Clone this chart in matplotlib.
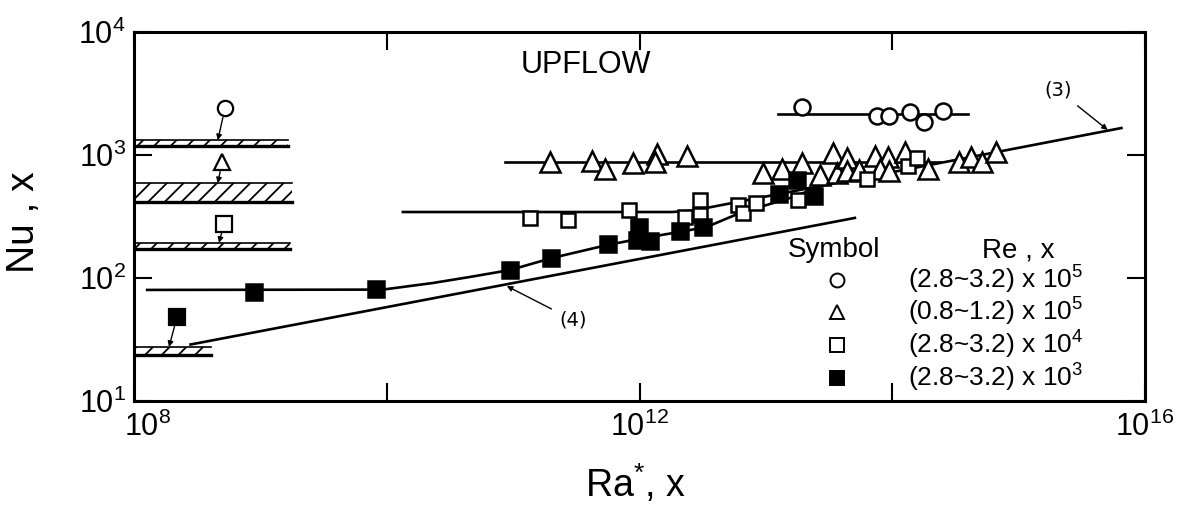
import matplotlib
matplotlib.use("Agg")
import matplotlib.pyplot as plt
import matplotlib.transforms as mtransforms
from matplotlib.ticker import NullLocator

plt.rcParams['font.family'] = ['Liberation Sans', 'DejaVu Sans']
plt.rcParams['mathtext.fontset'] = 'custom'
plt.rcParams['mathtext.rm'] = 'Liberation Sans'
plt.rcParams['mathtext.it'] = 'Liberation Sans'
plt.rcParams['hatch.linewidth'] = 1.3

# Re,x = (2.8~3.2) x 10^5
ra_circle = [1.92e13, 7.5e13, 9.4e13, 1.37e14, 1.77e14, 2.5e14]
nu_circle = [2455, 2075, 2075, 2240, 1853, 2280]

# Re,x = (0.8~1.2) x 10^5
ra_tri = [1.95e11, 4.2e11, 5.3e11, 8.9e11, 1.37e12, 1.32e12, 2.37e12,
          9.4e12, 1.34e13, 1.92e13, 2.67e13, 3.38e13, 3.64e13, 4.37e13,
          4.4e13, 5.5e13, 7.3e13, 9.2e13, 8.0e13, 9.5e13, 1.26e14,
          1.91e14, 3.36e14, 4.2e14, 5.1e14, 6.6e14]
nu_tri = [877, 894, 769, 861, 1019, 877, 981,
          714, 769, 861, 687, 1038, 714, 946,
          741, 755, 981, 964, 769, 741, 1057,
          769, 877, 964, 877, 1057]

# Re,x = (2.8~3.2) x 10^4
ra_sq = [1.36e11, 2.7e11, 8.2e11, 2.3e12, 3.0e12, 3.0e12, 6.0e12,
         6.6e12, 8.3e12, 1.8e13, 6.3e13, 1.32e14, 1.56e14]
nu_sq = [308, 297, 357, 313, 431, 325, 392,
         337, 407, 431, 638, 814, 946]

# Re,x = (2.8~3.2) x 10^3
ra_fill = [8.9e8, 8.2e9, 9.4e10, 2.0e11, 5.6e11, 9.9e11, 9.5e11,
           1.2e12, 2.1e12, 3.2e12, 1.26e13, 1.75e13, 2.4e13]
nu_fill = [76.9, 81.5, 116, 146, 189, 260, 204,
           200, 241, 260, 482, 626, 464]

# curves drawn through each group
curve_circle_ra = [1.24e13, 3.95e14]
curve_circle_nu = [2150, 2150]
curve_tri_ra = [8.6e10, 2.37e14]
curve_tri_nu = [877, 877]
curve_sq_ra = [1.34e10, 1.8e12, 2.6e12]
curve_sq_nu = [344, 344, 352]
curve_fill_ra = [1.27e8, 9.3e9, 2.3e10, 4.55e10, 9.4e10, 2.06e11, 5.5e11,
                 1.06e12, 2.08e12, 3.4e12, 6.2e12, 1.55e13, 2.82e13]
curve_fill_nu = [80, 80.5, 91, 102, 116, 146, 185,
                 211, 237, 260, 337, 447, 565]

# correlations (3) and (4)
line3_ra = [2.08e12, 6.5e15]
line3_nu = [337, 1657]
line4_ra = [2.8e8, 5.06e13]
line4_nu = [28.8, 308]

# laminar-range bands on the left, one per Re group (circle, triangle, square, filled)
band_ra_end = [1.65e9, 1.78e9, 1.7e9, 4.1e8]
band_lo = [1180, 415, 172, 23.7]
band_hi = [1320, 590, 193, 27.5]
band_mark_ra = [5.25e8, 4.97e8, 5.15e8, 2.19e8]
band_mark_nu = [2410, 877, 275, 48.2]
band_tip_ra = [4.6e8, 4.6e8, 4.7e8, 1.89e8]
band_styles = [dict(marker='o', mfc='white'), dict(marker='^', mfc='white'),
               dict(marker='s', mfc='white'), dict(marker='s', mfc='black')]

legend_text = ['(2.8~3.2) x 10$^5$', '(0.8~1.2) x 10$^5$',
               '(2.8~3.2) x 10$^4$', '(2.8~3.2) x 10$^3$']

fig = plt.figure(figsize=(11.84, 5.28), dpi=100)
ax = fig.add_axes([0.1132, 0.2405, 0.8539, 0.6989])
ax.set_xscale('log')
ax.set_yscale('log')
ax.set_xlim(1e8, 1e16)
ax.set_ylim(1e1, 1e4)

lw = 1.9
ax.plot(curve_circle_ra, curve_circle_nu, 'k-', lw=lw, zorder=2)
ax.plot(curve_tri_ra, curve_tri_nu, 'k-', lw=lw, zorder=2)
ax.plot(curve_sq_ra, curve_sq_nu, 'k-', lw=lw, zorder=2)
ax.plot(curve_fill_ra, curve_fill_nu, 'k-', lw=lw, zorder=2)
ax.plot(line3_ra, line3_nu, 'k-', lw=lw, zorder=2)
ax.plot(line4_ra, line4_nu, 'k-', lw=lw, zorder=2)

ms_kw = dict(ls='none', mec='black', mew=1.8, zorder=4)
ax.plot(ra_circle, nu_circle, marker='o', ms=11.5, mfc='white', **ms_kw)
ax.plot(ra_tri, nu_tri, marker='^', ms=14, mfc='white', **ms_kw)
ax.plot(ra_sq, nu_sq, marker='s', ms=10, mfc='white', **ms_kw)
ax.plot(ra_fill, nu_fill, marker='s', ms=11, mfc='black', **ms_kw)

# hatched bands with their symbol and arrow
for i in range(4):
    ax.fill_between([1e8, band_ra_end[i]], band_lo[i], band_hi[i],
                    facecolor='white', edgecolor='black', hatch='//',
                    linewidth=0, zorder=1)
    ax.plot([1e8, band_ra_end[i]], [band_hi[i]] * 2, 'k-', lw=1.2, zorder=2)
    ax.plot([1e8, band_ra_end[i]], [band_lo[i]] * 2, 'k-', lw=2.4, zorder=2)
    ax.plot(band_mark_ra[i], band_mark_nu[i], ls='none', ms=11, mec='black',
            mew=1.6, zorder=4, **band_styles[i])
    ax.annotate('', xy=(band_tip_ra[i], band_hi[i]),
                xytext=(band_mark_ra[i], band_mark_nu[i]),
                arrowprops=dict(arrowstyle='-|>', lw=1.0, color='black',
                                mutation_scale=8, shrinkA=7, shrinkB=0))

ax.annotate('(3)', xy=(5.06e15, 1600), xytext=(2.04e15, 3375),
            ha='center', va='center', fontsize=14, family='DejaVu Sans',
            arrowprops=dict(arrowstyle='-|>', lw=1.0, color='black',
                            mutation_scale=8, shrinkA=4, shrinkB=0))
ax.annotate('(4)', xy=(8.9e10, 86), xytext=(2.97e11, 45.6),
            ha='center', va='center', fontsize=14, family='DejaVu Sans',
            arrowprops=dict(arrowstyle='-|>', lw=1.0, color='black',
                            mutation_scale=8, shrinkA=4, shrinkB=0))

ax.text(0.382, 0.911, 'UPFLOW', transform=ax.transAxes, fontsize=22,
        ha='left', va='center')

# symbol table
ax.text(0.692, 0.409, 'Symbol', transform=ax.transAxes, fontsize=20,
        ha='center', va='center')
ax.text(0.839, 0.409, 'Re , x', transform=ax.transAxes, fontsize=20,
        ha='left', va='center')
leg_y = [0.328, 0.241, 0.152, 0.062]
for i in range(4):
    ax.plot(0.695, leg_y[i], transform=ax.transAxes, ls='none', ms=10,
            mec='black', mew=1.4, clip_on=False, **band_styles[i])
    ax.text(0.766, leg_y[i], legend_text[i], transform=ax.transAxes,
            fontsize=19, ha='left', va='center')

ax.set_xticks([1e8, 1e10, 1e12, 1e14, 1e16])
ax.set_xticklabels(['$10^{8}$', '', '$10^{12}$', '', '$10^{16}$'])
ax.set_yticks([1e1, 1e2, 1e3, 1e4])
ax.set_yticklabels(['$10^{1}$', '$10^{2}$', '$10^{3}$', '$10^{4}$'])
ax.xaxis.set_minor_locator(NullLocator())
ax.yaxis.set_minor_locator(NullLocator())
ax.tick_params(direction='in', length=13, width=1.5, top=True, right=True,
               labelsize=22, pad=6)
ax.tick_params(axis='x', pad=8)
for s in ax.spines.values():
    s.set_linewidth(2.2)

# nudge the 10^8 label to the right, clear of 10^1
lab0 = ax.get_xticklabels()[0]
lab0.set_transform(lab0.get_transform() +
                   mtransforms.ScaledTranslation(14 / 100, 0, fig.dpi_scale_trans))

ax.set_ylabel('Nu , x', fontsize=28)
ax.yaxis.set_label_coords(-0.091, 0.485)
ax.set_xlabel('Ra$^{*}$, x', fontsize=27)
ax.xaxis.set_label_coords(0.496, -0.165)

fig.savefig('out.png', dpi=100)
